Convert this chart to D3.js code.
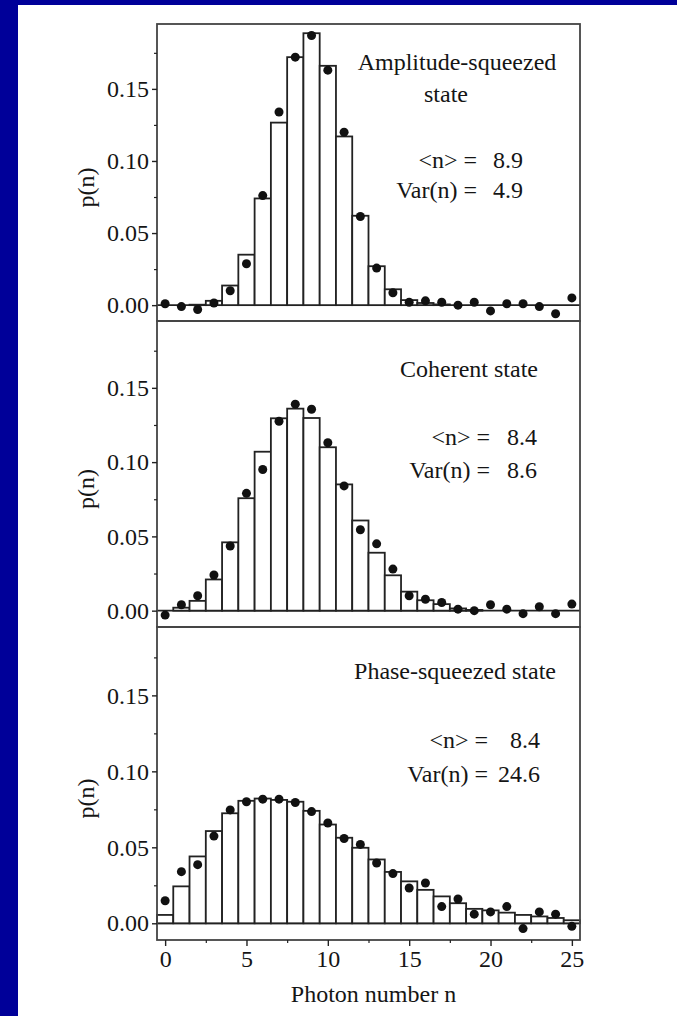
<!DOCTYPE html>
<html>
<head>
<meta charset="utf-8">
<script src="https://cdn.jsdelivr.net/npm/d3@7"></script>
<style>
  html, body { margin: 0; padding: 0; background: #000099; }
  svg { display: block; }
  text { font-family: "Liberation Serif", "DejaVu Serif", serif; fill: #151515; }
</style>
</head>
<body>
<div id="chart"></div>
<script>
// photon number n (shared x categories)
const photonN = [0, 1, 2, 3, 4, 5, 6, 7, 8, 9, 10, 11, 12, 13, 14, 15, 16, 17, 18, 19, 20, 21, 22, 23, 24, 25];

// Amplitude-squeezed state: histogram (theory) and dots (measured)
const ampBars = [0, 0, 0.0003, 0.003, 0.0136, 0.035, 0.074, 0.1266, 0.172, 0.1886, 0.166, 0.117, 0.062, 0.027, 0.011, 0.0035, 0.0015, 0.0005, 0, 0, 0, 0, 0, 0, 0, 0];
const ampDots = [0.001, -0.001, -0.003, 0.0015, 0.010, 0.0287, 0.076, 0.134, 0.172, 0.187, 0.163, 0.120, 0.0615, 0.0257, 0.0086, 0.002, 0.003, 0.002, 0.0, 0.002, -0.004, 0.001, 0.001, -0.001, -0.006, 0.005];

// Coherent state
const cohBars = [0, 0.002, 0.0066, 0.021, 0.046, 0.0757, 0.107, 0.1295, 0.136, 0.1297, 0.110, 0.085, 0.0607, 0.039, 0.0238, 0.0128, 0.007, 0.0044, 0.0015, 0.0005, 0, 0, 0, 0, 0, 0];
const cohDots = [-0.003, 0.004, 0.010, 0.024, 0.0435, 0.079, 0.095, 0.1275, 0.139, 0.1356, 0.113, 0.084, 0.0545, 0.045, 0.028, 0.010, 0.0077, 0.0055, 0.001, 0, 0.004, 0.001, -0.002, 0.0026, -0.002, 0.0044];

// Phase-squeezed state
const phaseBars = [0.0055, 0.0243, 0.044, 0.0607, 0.0724, 0.0806, 0.0821, 0.0812, 0.080, 0.074, 0.065, 0.0563, 0.0497, 0.042, 0.0338, 0.0276, 0.022, 0.0177, 0.0132, 0.0095, 0.0085, 0.007, 0.0055, 0.0045, 0.0035, 0.002];
const phaseDots = [0.0148, 0.034, 0.0386, 0.0574, 0.0746, 0.080, 0.0817, 0.0817, 0.0795, 0.0735, 0.066, 0.0558, 0.0519, 0.0397, 0.0327, 0.0232, 0.0265, 0.011, 0.016, 0.006, 0.0075, 0.011, -0.0035, 0.0075, 0.006, -0.002];

// labels
const panelTitles = [["Amplitude-squeezed", "state"], ["Coherent state"], ["Phase-squeezed state"]];
const meanLabels = ["8.9", "8.4", "8.4"];
const varLabels = ["4.9", "8.6", "24.6"];
const yTicks = [0, 0.05, 0.10, 0.15];
const yMinorTicks = [0.025, 0.075, 0.125, 0.175];
const xTicks = [0, 5, 10, 15, 20, 25];
const xMinorTicks = [2.5, 7.5, 12.5, 17.5, 22.5];

const W = 677, H = 1016;
const left = 157, right = 580;
const panelTop = [24, 321, 627];
const panelBottom = [321, 627, 940];
const ink = '#222';

const svg = d3.select('#chart').append('svg')
    .attr('width', W)
    .attr('height', H);

// blue slide background with white sheet
svg.append('rect').attr('width', W).attr('height', H).attr('fill', '#000099');
svg.append('rect').attr('x', 18).attr('y', 5).attr('width', W - 18).attr('height', H - 5).attr('fill', '#fff');

const x = d3.scaleLinear().domain([-0.5, 25.5]).range([left, right]);

const panels = [
    { bars: ampBars, dots: ampDots },
    { bars: cohBars, dots: cohDots },
    { bars: phaseBars, dots: phaseDots }
];

// text placement inside each panel (offsets from panel top)
const titleLayout = [
    { cx: [457, 446], dy: [46, 78] },
    { cx: [469], dy: [56] },
    { cx: [455], dy: [52] }
];
const statLayout = [
    { labelEnd: 477, valueEnd: 523, dy: [144, 174] },
    { labelEnd: 490, valueEnd: 537, dy: [124, 157] },
    { labelEnd: 488, valueEnd: 540, dy: [121, 155] }
];

panels.forEach((p, i) => {
    const top = panelTop[i], bottom = panelBottom[i];
    const y = d3.scaleLinear().domain([-0.011, 0.195]).range([bottom, top]);
    const g = svg.append('g');

    // zero line
    g.append('line')
        .attr('x1', left).attr('x2', right)
        .attr('y1', y(0)).attr('y2', y(0))
        .attr('stroke', ink).attr('stroke-width', 1.8);

    // histogram bars
    g.selectAll('rect.bar')
        .data(photonN)
        .join('rect')
        .attr('class', 'bar')
        .attr('x', n => x(n - 0.5))
        .attr('width', n => x(n + 0.5) - x(n - 0.5))
        .attr('y', (n, j) => y(Math.max(0, p.bars[j])))
        .attr('height', (n, j) => y(0) - y(Math.max(0, p.bars[j])))
        .attr('fill', '#fff')
        .attr('stroke', ink)
        .attr('stroke-width', 1.8);

    // measured points
    g.selectAll('circle')
        .data(photonN)
        .join('circle')
        .attr('cx', n => x(n))
        .attr('cy', (n, j) => y(p.dots[j]))
        .attr('r', 4.5)
        .attr('fill', '#111');

    // frame
    g.append('rect')
        .attr('x', left).attr('y', top)
        .attr('width', right - left).attr('height', bottom - top)
        .attr('fill', 'none')
        .attr('stroke', '#444')
        .attr('stroke-width', 1.8);

    // y axis
    const yAxis = g.append('g')
        .attr('transform', `translate(${left},0)`)
        .call(d3.axisLeft(y).tickValues(yTicks).tickFormat(d3.format('.2f')).tickSize(5).tickPadding(3));
    yAxis.select('.domain').remove();
    yAxis.selectAll('line').attr('stroke', ink).attr('stroke-width', 1.4);
    yAxis.selectAll('text').attr('font-size', 24).attr('fill', '#151515')
        .attr('font-family', '"Liberation Serif", serif');

    const yMinor = g.append('g')
        .attr('transform', `translate(${left},0)`)
        .call(d3.axisLeft(y).tickValues(yMinorTicks).tickFormat('').tickSize(3));
    yMinor.select('.domain').remove();
    yMinor.selectAll('line').attr('stroke', ink).attr('stroke-width', 1.2);

    // y label
    g.append('text')
        .attr('transform', `translate(94,${(top + bottom) / 2 + 15}) rotate(-90)`)
        .attr('text-anchor', 'middle')
        .attr('font-size', 24)
        .text('p(n)');

    // panel title
    panelTitles[i].forEach((t, k) => {
        g.append('text')
            .attr('x', titleLayout[i].cx[k])
            .attr('y', top + titleLayout[i].dy[k])
            .attr('text-anchor', 'middle')
            .attr('font-size', 24)
            .text(t);
    });

    // <n> and Var(n)
    const s = statLayout[i];
    [['<n> =', meanLabels[i]], ['Var(n) =', varLabels[i]]].forEach(([lab, val], k) => {
        g.append('text')
            .attr('x', s.labelEnd).attr('y', top + s.dy[k])
            .attr('text-anchor', 'end')
            .attr('font-size', 24)
            .text(lab);
        g.append('text')
            .attr('x', s.valueEnd).attr('y', top + s.dy[k])
            .attr('text-anchor', 'end')
            .attr('font-size', 24)
            .text(val);
    });
});

// shared x axis on the bottom panel
const bottomY = panelBottom[2];
const xAxis = svg.append('g')
    .attr('transform', `translate(0,${bottomY})`)
    .call(d3.axisBottom(x).tickValues(xTicks).tickFormat(d3.format('d')).tickSize(6).tickPadding(4));
xAxis.select('.domain').remove();
xAxis.selectAll('line').attr('stroke', ink).attr('stroke-width', 1.4);
xAxis.selectAll('text').attr('font-size', 24).attr('fill', '#151515')
    .attr('font-family', '"Liberation Serif", serif');

const xMinor = svg.append('g')
    .attr('transform', `translate(0,${bottomY})`)
    .call(d3.axisBottom(x).tickValues(xMinorTicks).tickFormat('').tickSize(3));
xMinor.select('.domain').remove();
xMinor.selectAll('line').attr('stroke', ink).attr('stroke-width', 1.2);

svg.append('text')
    .attr('x', (left + right) / 2 + 5)
    .attr('y', 1002)
    .attr('text-anchor', 'middle')
    .attr('font-size', 24)
    .text('Photon number n');
</script>
</body>
</html>
